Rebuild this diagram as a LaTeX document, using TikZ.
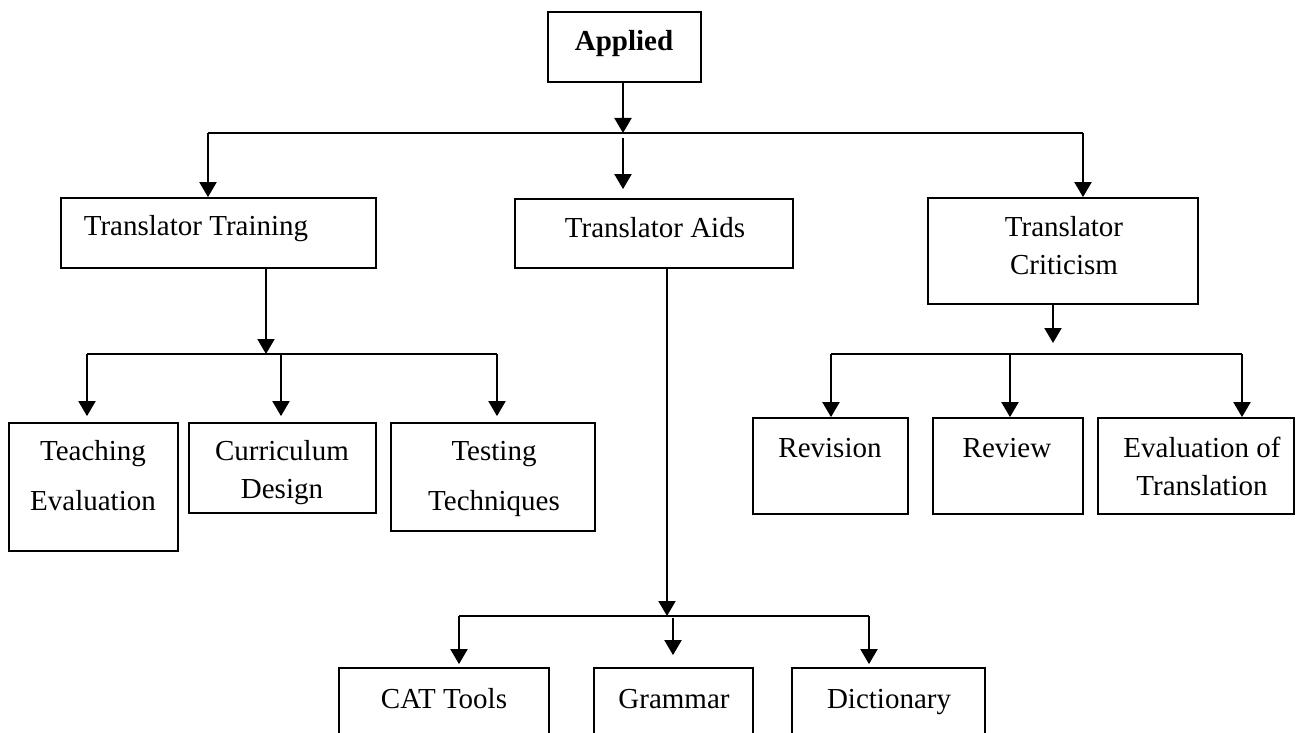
\documentclass[tikz,border=0pt]{standalone}
\usepackage{fontspec}
\setmainfont{Liberation Serif}
\usetikzlibrary{arrows.meta,fit}
\begin{document}
\begin{tikzpicture}[x=0.5pt,y=-0.5pt,
  box/.style={draw, line width=0.9pt, inner sep=0pt},
  lbl/.style={anchor=base, inner sep=0pt, font=\fontsize{14.5}{17}\selectfont},
  conn/.style={line width=1pt},
  arr/.style={conn, -{Triangle[length=7.5pt,width=8.5pt]}}]
\clip (0,0) rectangle (1296,733);
\fill[white] (0,0) rectangle (1296,733);

% boxes
\node[box, fit={(548,12) (701,82)}] (applied) {};
\node[box, fit={(61,198) (376,268)}] (tt) {};
\node[box, fit={(515,199) (793,268)}] (aids) {};
\node[box, fit={(928,198) (1198,304)}] (crit) {};
\node[box, fit={(9,423) (178,551)}] (teach) {};
\node[box, fit={(189,423) (376,513)}] (curr) {};
\node[box, fit={(391,423) (595,531)}] (test) {};
\node[box, fit={(753,418) (908,514)}] (rev) {};
\node[box, fit={(933,418) (1083,514)}] (review) {};
\node[box, fit={(1098,418) (1294,514)}] (evalt) {};
\node[box, fit={(339,668) (549,760)}] (cat) {};
\node[box, fit={(594,668) (753,760)}] (gram) {};
\node[box, fit={(792,668) (985,760)}] (dict) {};

% texts
\node[lbl, font=\fontsize{14.5}{17}\selectfont\bfseries] (tApplied) at (624,51) {Applied};
\node[lbl] (tTT) at (196,235) {Translator Training};
\node[lbl] (tAids) at (655,237) {Translator Aids};
\node[lbl] (tCrit1) at (1064,236) {Translator};
\node[lbl] (tCrit2) at (1064,274) {Criticism};
\node[lbl] (tTeach1) at (93,460) {Teaching};
\node[lbl] (tTeach2) at (93,510) {Evaluation};
\node[lbl] (tCurr1) at (282,460) {Curriculum};
\node[lbl] (tCurr2) at (282,498) {Design};
\node[lbl] (tTest1) at (494,460) {Testing};
\node[lbl] (tTest2) at (494,510) {Techniques};
\node[lbl] (tRev) at (830,457) {Revision};
\node[lbl] (tReview) at (1007,457) {Review};
\node[lbl] (tEval1) at (1202,457) {Evaluation of};
\node[lbl] (tEval2) at (1202,495) {Translation};
\node[lbl] (tCat) at (444,708) {CAT Tools};
\node[lbl] (tGram) at (674,708) {Grammar};
\node[lbl] (tDict) at (889,708) {Dictionary};

% bar coordinates
\coordinate (b0) at (623,133);
\coordinate (bL) at (208,133);
\coordinate (bR) at (1083,133);
\coordinate (t0) at (266,354);
\coordinate (tL) at (87,354);
\coordinate (tM) at (281,354);
\coordinate (tR) at (497,354);
\coordinate (c0) at (1053,354);
\coordinate (cL) at (831,354);
\coordinate (cM) at (1010,354);
\coordinate (cR) at (1242,354);
\coordinate (a0) at (667,616);
\coordinate (aL) at (459,616);
\coordinate (aM) at (673,616);
\coordinate (aR) at (869,616);

% top level
\draw[arr] (b0 |- applied.south) -- (b0);
\draw[conn] (bL) -- (bR);
\draw[arr] (bL) -- (bL |- tt.north);
\draw[arr] (bR) -- (bR |- crit.north);
\draw[arr, shorten <=2.5pt, shorten >=4.5pt] (b0) -- (b0 |- aids.north);

% translator training
\draw[arr] (t0 |- tt.south) -- (t0);
\draw[conn] (tL) -- (tR);
\draw[arr, shorten >=3pt] (tL) -- (tL |- teach.north);
\draw[arr, shorten >=3pt] (tM) -- (tM |- curr.north);
\draw[arr, shorten >=3pt] (tR) -- (tR |- test.north);

% translator criticism
\draw[arr, shorten >=5.5pt] (c0 |- crit.south) -- (c0);
\draw[conn] (cL) -- (cR);
\draw[arr] (cL) -- (cL |- rev.north);
\draw[arr] (cM) -- (cM |- review.north);
\draw[arr] (cR) -- (cR |- evalt.north);

% translator aids
\draw[arr] (a0 |- aids.south) -- (a0);
\draw[conn] (aL) -- (aR);
\draw[arr, shorten >=1.5pt] (aL) -- (aL |- cat.north);
\draw[arr, shorten <=1pt, shorten >=6pt] (aM) -- (aM |- gram.north);
\draw[arr, shorten >=1.5pt] (aR) -- (aR |- dict.north);
\end{tikzpicture}
\end{document}
